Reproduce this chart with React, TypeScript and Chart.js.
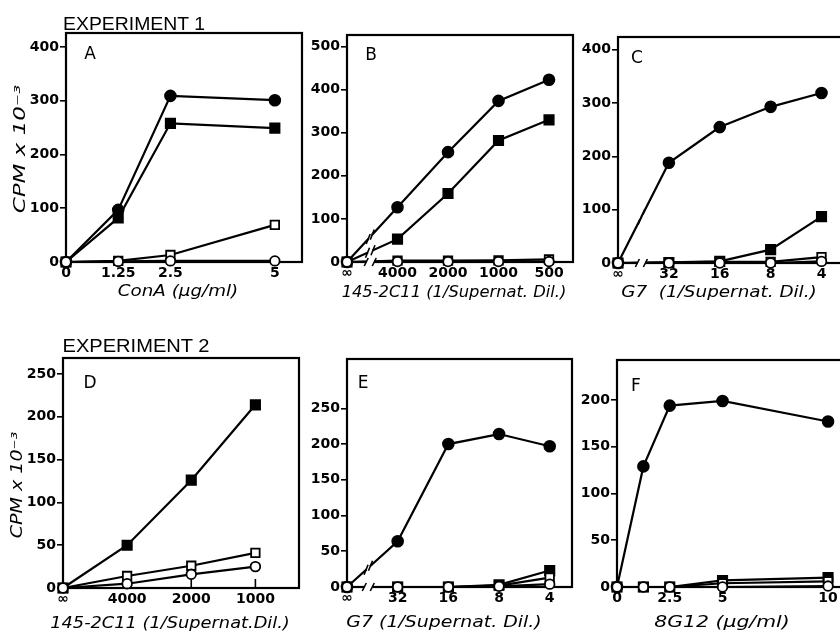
import React, { useEffect, useRef, useLayoutEffect, useState } from "react";
import { Chart, registerables } from "chart.js";
Chart.register(...registerables);

// ---------------- DATA ----------------
// Panel A : ConA (ug/ml)
const A_x = [0, 1.25, 2.5, 5];
const A_xTicks = [0, 1.25, 2.5, 5];
const A_xLabels = ["0", "1.25", "2.5", "5"];
const A_yTicks = [0, 100, 200, 300, 400];
const A_filledCircle = [0, 97, 309, 301];
const A_filledSquare = [0, 82, 258, 249];
const A_openSquare = [0, 2, 13, 69];
const A_openCircle = [0, 1, 2, 2];

// Panel B : 145-2C11 (1/Supernat. Dil.)
const B_x = [0, 1, 2, 3, 4];
const B_xLabels = ["∞", "4000", "2000", "1000", "500"];
const B_yTicks = [0, 100, 200, 300, 400, 500];
const B_filledCircle = [0, 127, 255, 374, 423];
const B_filledSquare = [0, 53, 159, 282, 330];
const B_openSquare = [0, 3, 3, 4, 6];
const B_openCircle = [0, 1, 1, 1, 1];

// Panel C : G7 (1/Supernat. Dil.)
const C_x = [0, 1, 2, 3, 4];
const C_xLabels = ["∞", "32", "16", "8", "4"];
const C_yTicks = [0, 100, 200, 300, 400];
const C_filledCircle = [0, 188, 255, 293, 319];
const C_filledSquare = [0, 1, 3, 25, 87];
const C_openSquare = [0, 1, 2, 2, 11];
const C_openCircle = [0, 0, 0, 0, 3];

// Panel D : 145-2C11 (1/Supernat. Dil.)
const D_x = [0, 1, 2, 3];
const D_xLabels = ["∞", "4000", "2000", "1000"];
const D_yTicks = [0, 50, 100, 150, 200, 250];
const D_filledSquare = [0, 50, 126, 214];
const D_openSquare = [0, 14, 26, 41];
const D_openCircle = [0, 5, 16, 25];

// Panel E : G7 (1/Supernat. Dil.)
const E_x = [0, 1, 2, 3, 4];
const E_xLabels = ["∞", "32", "16", "8", "4"];
const E_yTicks = [0, 50, 100, 150, 200, 250];
const E_filledCircle = [0, 64, 200, 214, 197];
const E_filledSquare = [0, 0, 0, 3, 23];
const E_openSquare = [0, 0, 0, 2, 13];
const E_openCircle = [0, 0, 0, 1, 4];

// Panel F : 8G12 (ug/ml)
const F_x = [0, 1.25, 2.5, 5, 10];
const F_xTicks = [0, 2.5, 5, 10];
const F_xLabels = ["0", "2.5", "5", "10"];
const F_yTicks = [0, 50, 100, 150, 200];
const F_filledCircle = [0, 129, 194, 199, 177];
const F_filledSquare = [0, 0, 0, 7, 10];
const F_openSquare = [0, 0, 0, 4, 6];
const F_openCircle = [0, 0, 0, 0, 1];

// ---------------- STYLES / LAYOUT ----------------
const WY = 46;
const PT = 12;
const PR = 14;
const HX = 26;
const TICK_FONT = "DejaVu Sans";

const STY: Record<string, any> = {
  fc: { pointStyle: "circle", pointRadius: 5.4, pointBackgroundColor: "#000" },
  fs: { pointStyle: "rect", pointRadius: 6.6, pointBackgroundColor: "#000" },
  os: { pointStyle: "rect", pointRadius: 6, pointBackgroundColor: "#fff" },
  oc: { pointStyle: "circle", pointRadius: 4.8, pointBackgroundColor: "#fff" },
};

type Panel = {
  area: { l: number; t: number; r: number; b: number };
  xMax: number;
  yMax: number;
  xTicks: number[];
  xLabels: string[];
  yTicks: number[];
  xs: number[];
  series: [string, number[]][];
  breakAt?: number;
  upTicks?: boolean;
};

const PANELS: Panel[] = [
  {
    area: { l: 66, t: 33, r: 302, b: 262 }, xMax: 5.65, yMax: 426,
    xTicks: A_xTicks, xLabels: A_xLabels, yTicks: A_yTicks, xs: A_x,
    series: [["oc", A_openCircle], ["os", A_openSquare], ["fs", A_filledSquare], ["fc", A_filledCircle]],
  },
  {
    area: { l: 347, t: 35, r: 573, b: 262 }, xMax: 4.475, yMax: 527,
    xTicks: B_x, xLabels: B_xLabels, yTicks: B_yTicks, xs: B_x,
    series: [["oc", B_openCircle], ["os", B_openSquare], ["fs", B_filledSquare], ["fc", B_filledCircle]],
    breakAt: 0.46,
  },
  {
    area: { l: 618, t: 37, r: 850, b: 263 }, xMax: 4.56, yMax: 424,
    xTicks: C_x, xLabels: C_xLabels, yTicks: C_yTicks, xs: C_x,
    series: [["oc", C_openCircle], ["os", C_openSquare], ["fs", C_filledSquare], ["fc", C_filledCircle]],
    breakAt: 0.46,
  },
  {
    area: { l: 63, t: 358, r: 299, b: 588 }, xMax: 3.68, yMax: 268.7,
    xTicks: D_x, xLabels: D_xLabels, yTicks: D_yTicks, xs: D_x,
    series: [["oc", D_openCircle], ["os", D_openSquare], ["fs", D_filledSquare]],
    upTicks: true,
  },
  {
    area: { l: 347, t: 359, r: 572, b: 587 }, xMax: 4.44, yMax: 319,
    xTicks: E_x, xLabels: E_xLabels, yTicks: E_yTicks, xs: E_x,
    series: [["oc", E_openCircle], ["os", E_openSquare], ["fs", E_filledSquare], ["fc", E_filledCircle]],
    breakAt: 0.42,
  },
  {
    area: { l: 617, t: 360, r: 850, b: 587 }, xMax: 11.04, yMax: 242.8,
    xTicks: F_xTicks, xLabels: F_xLabels, yTicks: F_yTicks, xs: F_x,
    series: [["oc", F_openCircle], ["os", F_openSquare], ["fs", F_filledSquare], ["fc", F_filledCircle]],
  },
];

const framePlugin = {
  id: "frame",
  beforeDatasetsDraw(chart: any, _a: any, opts: any) {
    const { ctx, chartArea } = chart;
    const { left, top, right, bottom } = chartArea;
    ctx.save();
    ctx.strokeStyle = "#000";
    ctx.lineWidth = 2.2;
    ctx.strokeRect(left, top, right - left, bottom - top);
    if (opts && opts.upTicks) {
      const xs = chart.scales.x;
      ctx.lineWidth = 1.6;
      for (const t of xs.ticks) {
        const px = xs.getPixelForValue(t.value);
        ctx.beginPath();
        ctx.moveTo(px, bottom);
        ctx.lineTo(px, bottom - 9);
        ctx.stroke();
      }
    }
    ctx.restore();
  },
  afterDatasetsDraw(chart: any, _a: any, opts: any) {
    const b = opts && opts.breakAt;
    if (b == null) return;
    const { ctx, chartArea } = chart;
    const px = chart.scales.x.getPixelForValue(b);
    const y = chartArea.bottom;
    ctx.save();
    ctx.fillStyle = "#fff";
    ctx.fillRect(px - 4, y - 4, 8, 8);
    ctx.strokeStyle = "#000";
    ctx.lineWidth = 1.6;
    ctx.beginPath();
    ctx.moveTo(px - 6, y + 4);
    ctx.lineTo(px - 2, y - 4);
    ctx.moveTo(px + 2, y + 4);
    ctx.lineTo(px + 6, y - 4);
    ctx.stroke();
    chart.data.datasets.forEach((_ds: any, i: number) => {
      const meta = chart.getDatasetMeta(i);
      const p0 = meta.data[0];
      const p1 = meta.data[1];
      if (!p0 || !p1) return;
      if (Math.abs(p1.y - y) < 12) return;
      const t = (px - p0.x) / (p1.x - p0.x);
      const cx = p0.x + t * (p1.x - p0.x);
      const cy = p0.y + t * (p1.y - p0.y);
      const len = Math.hypot(p1.x - p0.x, p1.y - p0.y);
      const dx = (p1.x - p0.x) / len;
      const dy = (p1.y - p0.y) / len;
      ctx.strokeStyle = "#fff";
      ctx.lineWidth = 5;
      ctx.beginPath();
      ctx.moveTo(cx - dx * 2.5, cy - dy * 2.5);
      ctx.lineTo(cx + dx * 2.5, cy + dy * 2.5);
      ctx.stroke();
      ctx.strokeStyle = "#000";
      ctx.lineWidth = 1.6;
      for (const s of [-3, 3]) {
        const qx = cx + dx * s;
        const qy = cy + dy * s;
        ctx.beginPath();
        ctx.moveTo(qx - 2, qy + 5);
        ctx.lineTo(qx + 2, qy - 5);
        ctx.stroke();
      }
    });
    ctx.restore();
  },
};

function PanelChart({ p }: { p: Panel }) {
  const ref = useRef<HTMLCanvasElement>(null);
  const { l, t, r, b } = p.area;
  const W = r - l + WY + PR;
  const H = b - t + PT + HX;
  useEffect(() => {
    const canvas = ref.current!;
    const datasets = p.series.map(([style, ys]) => ({
      data: p.xs.map((x, i) => ({ x, y: ys[i] })),
      borderColor: "#000",
      borderWidth: 2.2,
      pointBorderColor: "#000",
      pointBorderWidth: 1.8,
      tension: 0,
      clip: false as any,
      ...STY[style],
    }));
    const chart = new Chart(canvas, {
      type: "line",
      data: { datasets },
      plugins: [framePlugin as any],
      options: {
        responsive: false,
        animation: false,
        devicePixelRatio: 1,
        layout: { padding: { top: PT, right: PR, left: 0, bottom: 0 } },
        plugins: {
          legend: { display: false },
          tooltip: { enabled: false },
          frame: { breakAt: p.breakAt, upTicks: p.upTicks },
        } as any,
        scales: {
          x: {
            type: "linear",
            min: 0,
            max: p.xMax,
            afterFit: (s: any) => { s.height = HX; },
            afterBuildTicks: (s: any) => { s.ticks = p.xTicks.map((v) => ({ value: v })); },
            grid: { display: false, drawTicks: false },
            border: { display: false },
            ticks: {
              autoSkip: false,
              maxRotation: 0,
              minRotation: 0,
              padding: 3,
              color: "#000",
              font: { family: TICK_FONT, size: 14, weight: "bold" },
              callback: (v: any) => {
                const k = p.xTicks.indexOf(Number(v));
                return k >= 0 ? p.xLabels[k] : "";
              },
            },
          },
          y: {
            type: "linear",
            min: 0,
            max: p.yMax,
            afterFit: (s: any) => { s.width = WY; },
            afterBuildTicks: (s: any) => { s.ticks = p.yTicks.map((v) => ({ value: v })); },
            grid: { display: true, drawOnChartArea: false, drawTicks: true, tickLength: 6, color: "#000", lineWidth: 1.6 },
            border: { display: false },
            ticks: {
              autoSkip: false,
              padding: 1,
              color: "#000",
              font: { family: TICK_FONT, size: 14, weight: "bold" },
            },
          },
        },
      },
    });
    return () => chart.destroy();
  }, []);
  return (
    <canvas
      ref={ref}
      width={W}
      height={H}
      style={{ position: "absolute", left: l - WY, top: t - PT, width: W, height: H }}
    />
  );
}

function Label({ text, cx, cy, w, size, italic, family, weight, rotate }: any) {
  const ref = useRef<HTMLSpanElement>(null);
  const [k, setK] = useState(1);
  useLayoutEffect(() => {
    if (ref.current && w) {
      const ow = ref.current.offsetWidth;
      if (ow) setK(w / ow);
    }
  }, [text, w]);
  return (
    <span
      ref={ref}
      style={{
        position: "absolute",
        left: cx,
        top: cy,
        whiteSpace: "pre",
        fontFamily: family || "DejaVu Sans",
        fontSize: size,
        fontStyle: italic ? "italic" : "normal",
        fontWeight: weight || "normal",
        lineHeight: 1,
        color: "#000",
        transform: `translate(-50%,-50%) rotate(${rotate || 0}deg) scaleX(${k})`,
      }}
    >
      {text}
    </span>
  );
}

const TEXTS = [
  { text: "EXPERIMENT 1", cx: 134, cy: 23, w: 142, size: 19, family: "Liberation Sans" },
  { text: "EXPERIMENT 2", cx: 136, cy: 345, w: 147, size: 19, family: "Liberation Sans" },
  { text: "A", cx: 90, cy: 53, size: 17 },
  { text: "B", cx: 371, cy: 54, size: 17 },
  { text: "C", cx: 637, cy: 57, size: 17 },
  { text: "D", cx: 90, cy: 382, size: 17 },
  { text: "E", cx: 363, cy: 382, size: 17 },
  { text: "F", cx: 636, cy: 385, size: 17 },
  { text: "ConA (μg/ml)", cx: 178, cy: 291, w: 120, size: 16, italic: true },
  { text: "145-2C11 (1/Supernat. Dil.)", cx: 454, cy: 292, w: 225, size: 16, italic: true },
  { text: "G7  (1/Supernat. Dil.)", cx: 719, cy: 292, w: 195, size: 16, italic: true },
  { text: "145-2C11 (1/Supernat.Dil.)", cx: 170, cy: 623, w: 240, size: 16, italic: true },
  { text: "G7 (1/Supernat. Dil.)", cx: 444, cy: 622, w: 195, size: 16, italic: true },
  { text: "8G12 (μg/ml)", cx: 722, cy: 622, w: 135, size: 16, italic: true },
  { text: "CPM x 10⁻³", cx: 20, cy: 149, w: 128, size: 16, italic: true, rotate: -90 },
  { text: "CPM x 10⁻³", cx: 17, cy: 485, w: 106, size: 16, italic: true, rotate: -90 },
];

export default function App() {
  return (
    <div
      style={{
        position: "absolute",
        left: 0,
        top: 0,
        width: 840,
        height: 637,
        overflow: "hidden",
        background: "#fff",
      }}
    >
      {PANELS.map((p, i) => (
        <PanelChart key={i} p={p} />
      ))}
      {TEXTS.map((t, i) => (
        <Label key={"t" + i} {...t} />
      ))}
    </div>
  );
}
